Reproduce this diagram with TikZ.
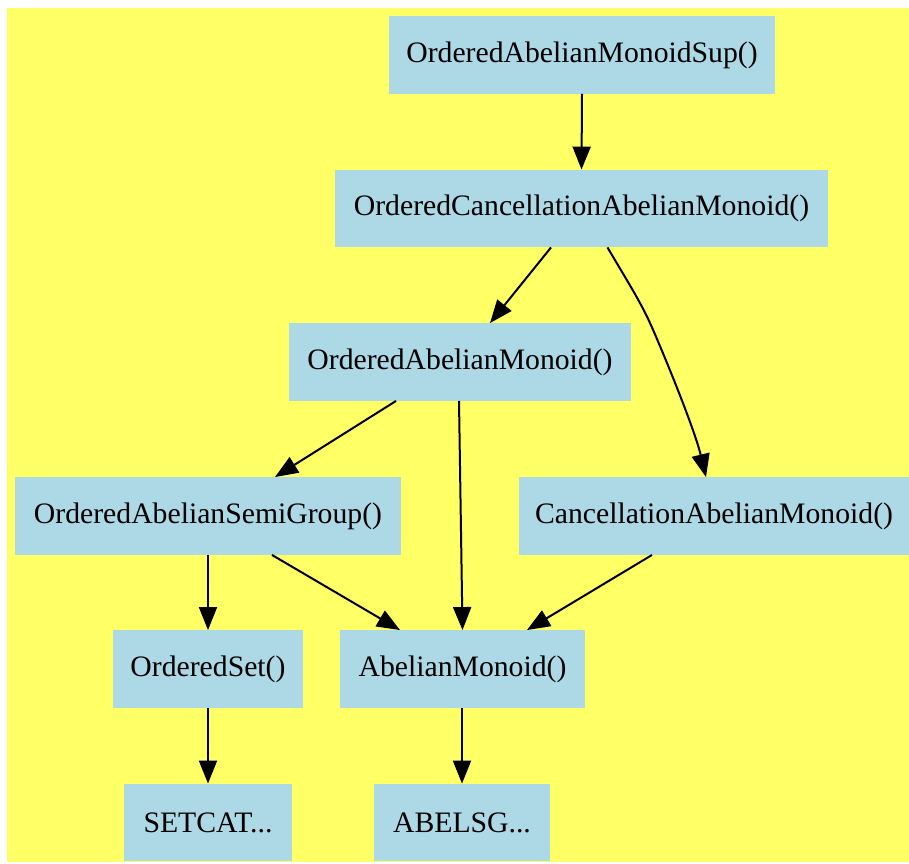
\documentclass[tikz,border=0pt]{standalone}
\usepackage{fontspec}
\setmainfont{Liberation Serif}
\usetikzlibrary{arrows.meta}
\definecolor{bgyellow}{HTML}{FFFF66}
\definecolor{nodeblue}{HTML}{ADD8E6}
\begin{document}
\begin{tikzpicture}[x=1pt,y=-1pt,
  box/.style={fill=nodeblue,draw=none,inner sep=0pt,minimum height=77.5pt,
    font=\fontsize{29.7}{35}\selectfont},
  edge/.style={line width=2pt,-{Triangle[length=23pt,width=18pt]}}]
\useasboundingbox (0,0) rectangle (909,863);
\fill[bgyellow] (7,8) rectangle (909,862);
\node[box,minimum width=386pt] (n1) at (582,55) {OrderedAbelianMonoidSup()};
\node[box,minimum width=493pt] (n2) at (581.5,208.5) {OrderedCancellationAbelianMonoid()};
\node[box,minimum width=342pt] (n3) at (460,362) {OrderedAbelianMonoid()};
\node[box,minimum width=386pt] (n4) at (208,516) {OrderedAbelianSemiGroup()};
\node[box,minimum width=390pt] (n5) at (714,516) {CancellationAbelianMonoid()};
\node[box,minimum width=190pt] (n6) at (208,669) {OrderedSet()};
\node[box,minimum width=245pt] (n7) at (462.5,669) {AbelianMonoid()};
\node[box,minimum width=168pt] (n8) at (208,822.5) {SETCAT...};
\node[box,minimum width=176pt] (n9) at (462,822.5) {ABELSG...};
\draw[edge] (n1.south) -- (n2.north);
\draw[edge] ([xshift=-30.5pt]n2.south) -- ([xshift=30pt]n3.north);
\draw[edge] ([xshift=26pt]n2.south) .. controls +(20,34) and +(-10,-22) .. (650,323)
  .. controls +(10,22) and +(-12,-50) .. ([xshift=-8pt]n5.north);
\draw[edge] ([xshift=-64pt]n3.south) -- ([xshift=67pt]n4.north);
\draw[edge] ([xshift=-1pt]n3.south) -- (n7.north);
\draw[edge] (n4.south) -- (n6.north);
\draw[edge] ([xshift=64pt]n4.south) -- ([xshift=-62.5pt]n7.north);
\draw[edge] ([xshift=-62pt]n5.south) -- ([xshift=64.5pt]n7.north);
\draw[edge] (n6.south) -- (n8.north);
\draw[edge] ([xshift=-0.5pt]n7.south) -- (n9.north);
\end{tikzpicture}
\end{document}
